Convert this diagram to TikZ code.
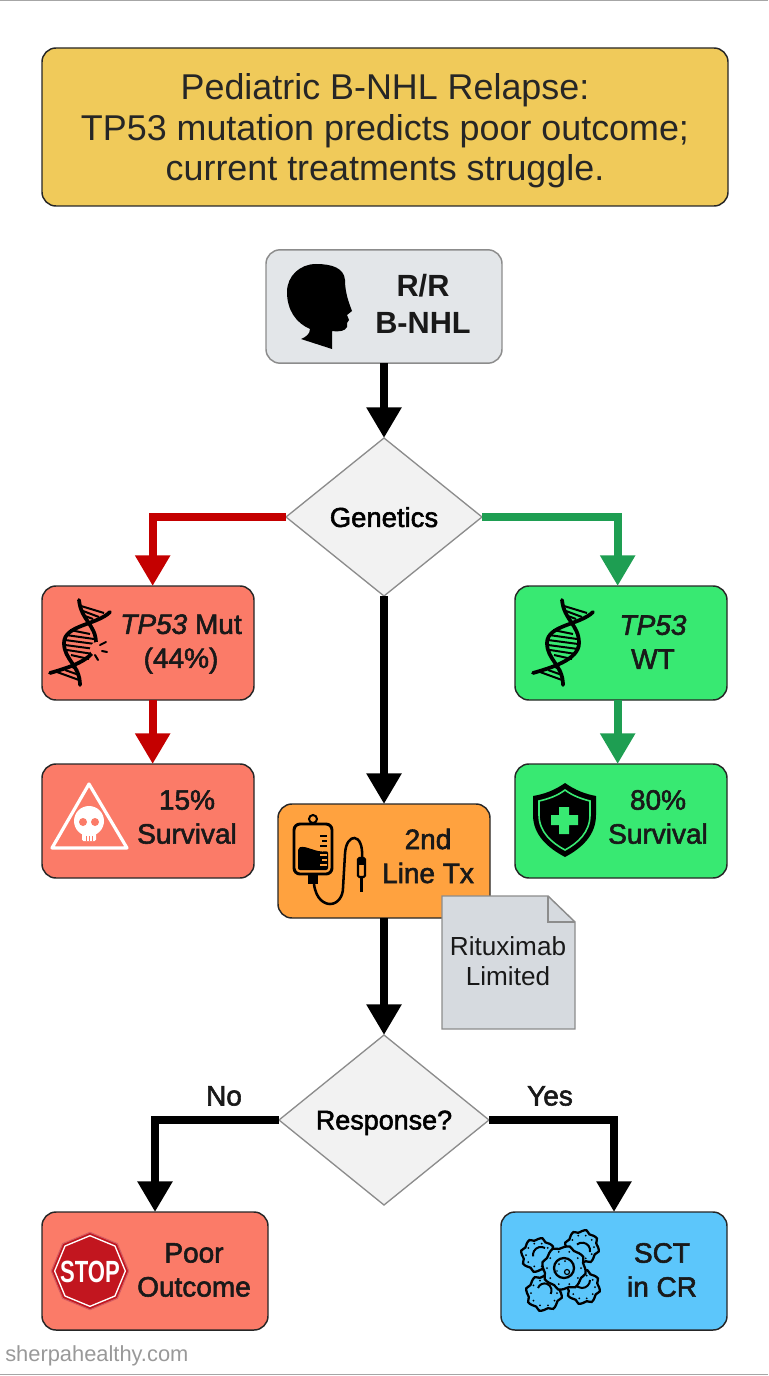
\documentclass[tikz,border=0pt]{standalone}
\usepackage{fontspec}
\setmainfont{Liberation Sans}
\newfontfamily\labelfont[FakeBold=2]{Liberation Sans}
\usetikzlibrary{arrows.meta, shapes.geometric}

\definecolor{titlefill}{HTML}{F0CA5A}
\definecolor{greyfill}{HTML}{E3E6E9}
\definecolor{redfill}{HTML}{FB7B68}
\definecolor{greenfill}{HTML}{38E972}
\definecolor{orangefill}{HTML}{FFA23F}
\definecolor{bluefill}{HTML}{5CC6FB}
\definecolor{notefill}{HTML}{D6DADF}
\definecolor{redline}{HTML}{C40000}
\definecolor{greenline}{HTML}{1E9E52}
\definecolor{stopred}{HTML}{C2161F}

\tikzset{
	flowbox/.style = {draw = black!85, line width = 1.1pt, rounded corners = 10.5pt, inner sep = 0pt, outer sep = 0pt},
	smallbox/.style = {flowbox, minimum width = 159pt, minimum height = 85.5pt},
	endbox/.style = {flowbox, minimum width = 169.5pt, minimum height = 88.5pt},
	decision/.style = {diamond, draw = black!45, line width = 1pt, fill = black!5, inner sep = 0pt, outer sep = 0pt, text depth = 0pt},
	boxtext/.style = {font = \labelfont\fontsize{21}{25.5}\selectfont, align = center, text = black!90},
	flowblack/.style = {-{Triangle[width = 25pt, length = 23pt]}, line width = 6pt, black},
	flowred/.style = {flowblack, redline},
	flowgreen/.style = {flowblack, greenline},
	dna/.pic = {
		\draw[line width = 2.8pt, line cap = round] (30, -31) .. controls (17, -18) and (-16, -18) .. (-16, 0) .. controls (-16, 17) and (0, 22) .. (0, 42);
		\draw[line width = 2.8pt, line cap = round] (-1, -43) .. controls (1, -23) and (16, -18) .. (16, 0) .. controls (16, 17) and (-13, 25) .. (-30, 30);
		\foreach \ya/\yb/\xa/\xb in {-13/-9/-10/10, -8/-4/-14/14, -3/1/-15/15, 2/6/-15/15, 7/11/-13/13, 12/16/-9/9}
			\draw[line width = 1.5pt] (\xa, \ya) -- (\xb, \yb);
		\draw[line width = 1.5pt] (1, -37) -- (24, -30) (3, -32) -- (19, -26) (5, -27) -- (13, -24);
		\draw[line width = 1.5pt] (-23, 29) -- (-1, 37) (-15, 27) -- (-1, 32) (-8, 24) -- (-2, 27);
	}
}

% one wobbly cell of the transplant icon
\newcommand{\stemcell}[3]{
	\draw[line width = 1.7pt, fill = bluefill] plot[smooth cycle, domain = 0:345, samples = 24] ({#1 + (#3 + 1.5*sin(8*\x))*cos(\x)}, {#2 + (#3 + 1.5*sin(8*\x))*sin(\x)});
	\foreach \ang in {0, 36, ..., 324}
		\fill ({#1 + (#3 - 4)*cos(\ang)}, {#2 + (#3 - 4)*sin(\ang)}) circle (1);
}

\begin{document}
\begin{tikzpicture}[x = 0.75pt, y = -0.75pt]
	\useasboundingbox (0, 0) rectangle (768, 1376);

	% frame lines
	\draw[black!35, line width = 0.9pt] (0, 0.5) -- (768, 0.5);
	\draw[black!35, line width = 0.9pt] (0, 1374.5) -- (768, 1374.5);

	% boxes
	\draw (385, 127) node[flowbox, fill = titlefill, minimum width = 514.5pt, minimum height = 118.5pt, font = \fontsize{26.9}{30.4}\selectfont, text = black!85] (headline) {};
	\draw (384, 306.5) node[flowbox, draw = black!45, fill = greyfill, minimum width = 177pt, minimum height = 85pt] (patient) {};
	\draw (148, 643) node[smallbox, fill = redfill] (mutant) {};
	\draw (148, 821) node[smallbox, fill = redfill] (lowsurvival) {};
	\draw (621, 643) node[smallbox, fill = greenfill] (wildtype) {};
	\draw (621, 821) node[smallbox, fill = greenfill] (highsurvival) {};
	\draw (384, 861) node[smallbox, fill = orangefill] (secondline) {};
	\draw (155, 1271) node[endbox, fill = redfill] (poor) {};
	\draw (614, 1271) node[endbox, fill = bluefill] (transplant) {};

	% diamonds
	\draw (384, 517) node[decision, minimum width = 147pt, minimum height = 118.5pt, font = \labelfont\fontsize{20.6}{24}\selectfont] (genetics) {Genetics};
	\draw (384, 1120) node[decision, minimum width = 157.5pt, minimum height = 127.5pt, font = \labelfont\fontsize{20.2}{24}\selectfont] (response) {Response?};

	% arrows
	\draw[flowblack] (patient.south) -- (genetics.north);
	\draw[flowred] (genetics.west) -| ([xshift = 3.5pt] mutant.north);
	\draw[flowgreen] (genetics.east) -| ([xshift = -2.5pt] wildtype.north);
	\draw[flowred] ([xshift = 3.5pt] mutant.south) -- ([xshift = 3.5pt] lowsurvival.north);
	\draw[flowgreen] ([xshift = -2.5pt] wildtype.south) -- ([xshift = -2.5pt] highsurvival.north);
	\draw[flowblack] (genetics.south) -- (secondline.north);
	\draw[flowblack] (secondline.south) -- (response.north);
	\draw[flowblack] (response.west) -| (poor.north);
	\draw[flowblack] (response.east) -| (transplant.north);

	% note
	\draw[black!45, line width = 1.1pt, fill = notefill] (442, 896) -- (548, 896) -- (575, 922) -- (575, 1029) -- (442, 1029) -- cycle;
	\draw[black!45, line width = 1.1pt] (548, 896) -- (548, 922) -- (575, 922);

	% labels
	\draw (385, 131) node[align = center, font = \fontsize{26.9}{30.4}\selectfont, text = black!85] (headlinetext) {Pediatric B-NHL Relapse:\\TP53 mutation predicts poor outcome;\\current treatments struggle.};
	\draw (423, 304) node[boxtext, font = \bfseries\fontsize{23}{27.5}\selectfont] (patienttext) {R/R\\B-NHL};
	\draw (181, 644) node[boxtext] (mutanttext) {\textit{TP53} Mut\\(44\%)};
	\draw (187, 817) node[boxtext] (lowtext) {15\%\\Survival};
	\draw (653, 642) node[boxtext] (wildtext) {\textit{TP53}\\WT};
	\draw (658, 817) node[boxtext] (hightext) {80\%\\Survival};
	\draw (428, 856) node[boxtext] (secondtext) {2nd\\Line Tx};
	\draw (194, 1270) node[boxtext] (poortext) {Poor\\Outcome};
	\draw (662, 1270) node[boxtext] (transplanttext) {SCT\\in CR};
	\draw (508, 961) node[align = center, font = \fontsize{19.6}{22.5}\selectfont, text = black!90] (notetext) {Rituximab\\Limited};
	\draw (224, 1096) node[boxtext] (nolabel) {No};
	\draw (550, 1096) node[boxtext] (yeslabel) {Yes};
	\draw (5, 1356) node[anchor = west, inner sep = 0pt, font = \fontsize{16.4}{18}\selectfont, text = black!40] (website) {sherpahealthy.com};

	% child head
	\fill (316, 264) .. controls (332, 264) and (344, 268) .. (345, 280) .. controls (345, 293) and (349, 303) .. (352, 311) -- (347, 315) -- (349, 320) -- (347, 323) -- (347, 327) .. controls (345, 331) and (340, 332) .. (332, 331) -- (332, 349) -- (301, 339) .. controls (306, 337) and (310, 334) .. (310, 329) .. controls (296, 323) and (287, 310) .. (287, 292) .. controls (287, 276) and (300, 264) .. (316, 264) -- cycle;

	% dna icons
	\draw (80, 643) pic {dna};
	\fill[redfill] (97, 649) circle (7);
	\draw[line width = 1.5pt, line cap = round] (100, 645) -- (106, 642) (102, 651) -- (107, 652) (95, 655) -- (98, 660);
	\draw (563, 643) pic {dna};

	% warning sign
	\draw[white, line width = 2.4pt, line join = round] (89, 784) -- (127, 848) -- (52, 848) -- cycle;
	\fill[white] (89, 821) circle (15);
	\fill[white, rounded corners = 1pt] (82, 826) rectangle (96, 841);
	\fill[redfill] (83, 822) circle (4) (95, 822) circle (4);
	\draw[redfill, line width = 0.6pt] (86, 836) -- (86, 841) (89, 836) -- (89, 841) (92, 836) -- (92, 841);

	% shield
	\fill (565, 783) .. controls (575, 790) and (585, 794) .. (596, 796) -- (596, 815) .. controls (596, 835) and (582, 848) .. (565, 857) .. controls (548, 848) and (533, 835) .. (533, 815) -- (533, 796) .. controls (545, 794) and (555, 790) .. (565, 783) -- cycle;
	\draw[greenfill, line width = 1.2pt] (565, 790) .. controls (573, 796) and (582, 799) .. (590, 801) -- (590, 815) .. controls (590, 832) and (578, 843) .. (565, 850) .. controls (552, 843) and (539, 832) .. (539, 815) -- (539, 801) .. controls (548, 799) and (557, 796) .. (565, 790) -- cycle;
	\fill[greenfill] (551, 815) rectangle (578, 825) (559, 807) rectangle (569, 834);

	% drip bag
	\draw[line width = 1.5pt] (313, 819) circle (4);
	\draw[line width = 2.2pt, rounded corners = 4.5pt] (294, 824) rectangle (332, 874);
	\fill[rounded corners = 1.5pt] (298, 848) .. controls (306, 845) and (316, 853) .. (328, 851) -- (328, 870) -- (298, 870) -- cycle;
	\draw[line width = 1pt] (320, 836) -- (327, 836) (322, 841) -- (327, 841) (320, 846) -- (327, 846);
	\draw[orangefill, line width = 1pt] (320, 855) -- (327, 855) (322, 860) -- (327, 860) (320, 865) -- (327, 865);
	\fill (308, 875) rectangle (318, 884);
	\draw[line width = 1.9pt] (314, 884) .. controls (316, 900) and (325, 904) .. (330, 904) .. controls (338, 904) and (343, 896) .. (343, 888) -- (345, 854) .. controls (346, 832) and (364, 832) .. (362, 858);
	\draw[line width = 1.6pt, fill = orangefill, rounded corners = 1pt] (358, 858) rectangle (365, 877);
	\fill (358, 858) rectangle (365, 865);
	\draw[line width = 1.6pt] (361.5, 877) -- (361.5, 892);

	% stop sign
	\draw (90, 1271) node[regular polygon, regular polygon sides = 8, shape border rotate = 22.5, fill = stopred, draw = stopred!70, line width = 0.8pt, minimum size = 58pt, inner sep = 0pt] (stopouter) {};
	\draw (90, 1271) node[regular polygon, regular polygon sides = 8, shape border rotate = 22.5, draw = white, line width = 1pt, minimum size = 53pt, inner sep = 0pt] (stopinner) {};
	\draw (90, 1272) node[xscale = 0.72, text = white, font = \bfseries\fontsize{23}{26}\selectfont] (stoptext) {STOP};

	% stem cells
	\stemcell{538}{1255}{16}
	\draw[line width = 1.5pt] (545, 1248) arc (-60:-190:8);
	\stemcell{582}{1247}{16}
	\draw[line width = 1.5pt] (590, 1252) arc (10:-130:8);
	\stemcell{544}{1293}{17}
	\draw[line width = 1.5pt] (538, 1288) arc (200:390:7);
	\stemcell{583}{1287}{16}
	\draw[line width = 1.5pt] (590, 1280) arc (0:150:8);
	\stemcell{564}{1268}{21}
	\draw[line width = 1.7pt] (564, 1268) circle (10);
	\fill (559, 1264) circle (1) (565, 1261) circle (1) (557, 1271) circle (0.9);
	\draw[line width = 0.9pt] (567, 1272) circle (2.5);
\end{tikzpicture}
\end{document}
